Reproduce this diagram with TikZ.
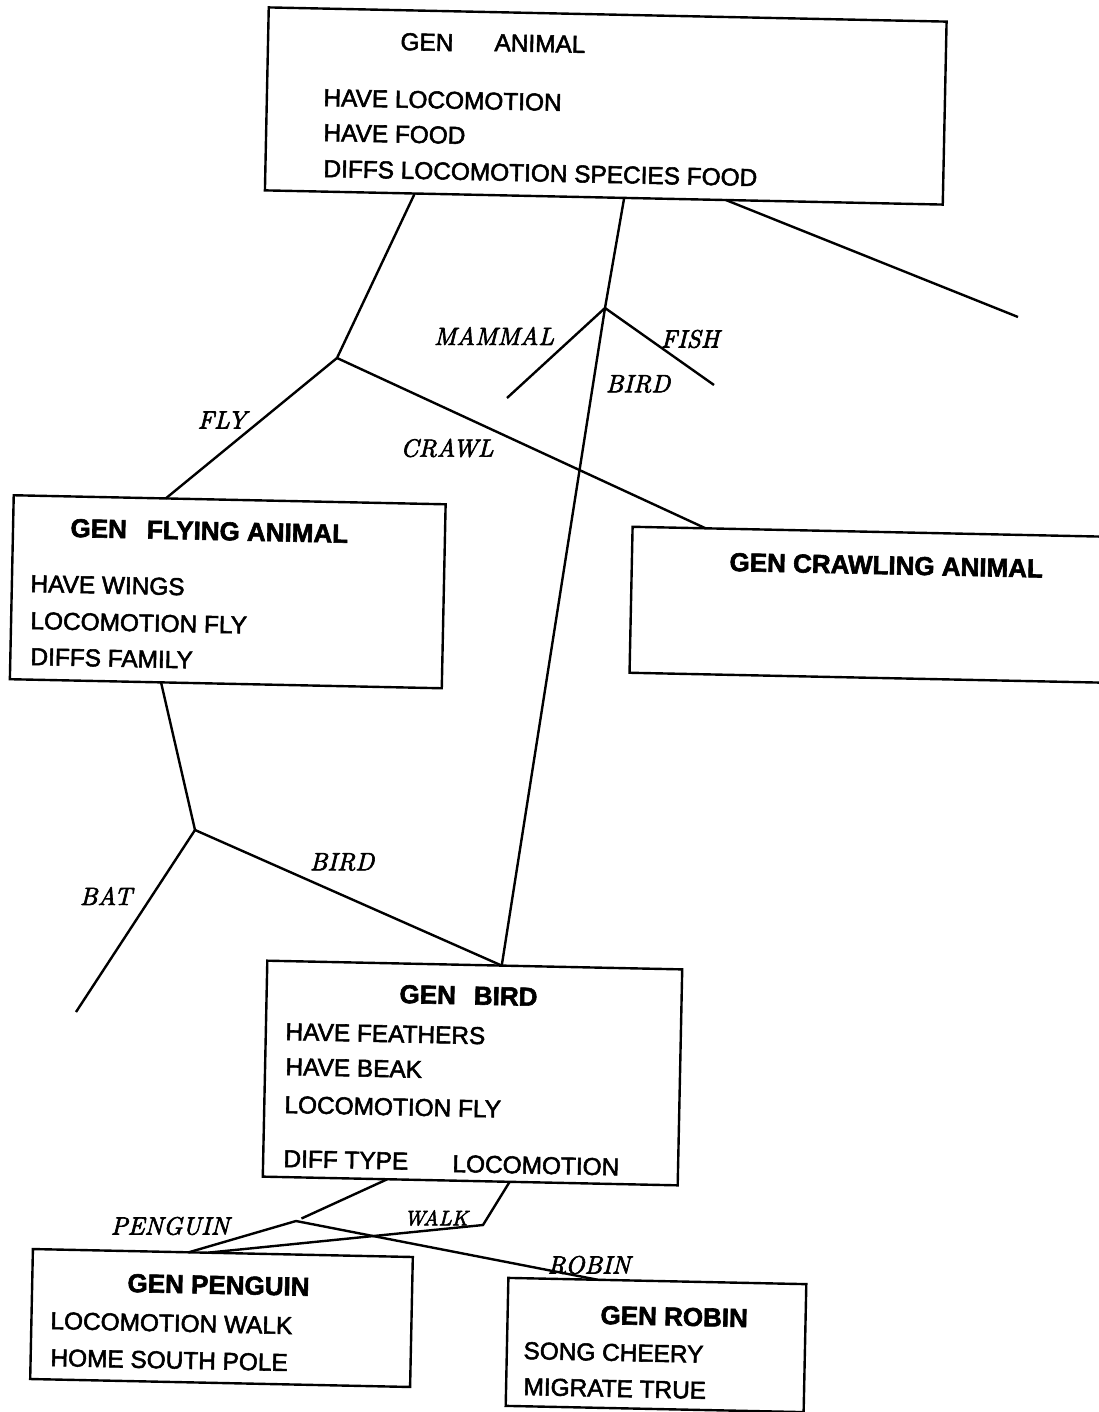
\documentclass[tikz,border=0pt]{standalone}
\usepackage{fontspec}
\newfontfamily\sansfnt[FakeBold=2.2]{Liberation Sans}
\newfontfamily\sanshd[FakeBold=2.2]{Liberation Sans}
\newfontfamily\lblfam[FakeBold=2.5]{lmroman10-italic.otf}
\usetikzlibrary{calc}
\newcommand\bodyfnt{\sansfnt\fontsize{12.2}{14}\selectfont}
\newcommand\headfnt{\sanshd\bfseries\fontsize{13}{15}\selectfont}
\newcommand\lblfnt{\lblfam\fontsize{12.5}{14}\selectfont}
\newcommand\smlblfnt{\lblfam\fontsize{10.5}{12}\selectfont}
\begin{document}
\begin{tikzpicture}[x=0.5pt,y=-0.5pt,
  box/.style={draw,line width=1.2pt,rotate=-1.2,inner sep=0pt,outer sep=0pt},
  txt/.style={anchor=base west,rotate=-1.2,inner sep=0pt,font=\bodyfnt},
  hd/.style={txt,font=\headfnt},
  lbl/.style={inner sep=0pt,font=\lblfnt},
  conn/.style={line width=1.2pt}]
\useasboundingbox[fill=white] (0,0) rectangle (1098,1412);

% boxes
\node[box,minimum width=339pt,minimum height=91.5pt] (animal) at (605.75,106) {};
\node[box,minimum width=216pt,minimum height=92pt] (flying) at (227.75,591.75) {};
\node[box,minimum width=250pt,minimum height=73pt] (crawl) at (881,605) {};
\node[box,minimum width=207.5pt,minimum height=108pt] (bird) at (472.5,1073) {};
\node[box,minimum width=190pt,minimum height=65pt] (penguin) at (221.5,1318) {};
\node[box,minimum width=149pt,minimum height=64pt] (robin) at (656,1345) {};

% animal text
\node[txt] (tA1) at (400,50) {GEN};
\node[txt] (tA2) at (494,51) {ANIMAL};
\node[txt] (tA3) at (323,106) {HAVE LOCOMOTION};
\node[txt] (tA4) at (323,141) {HAVE FOOD};
\node[txt] (tA5) at (323,177) {DIFFS LOCOMOTION SPECIES FOOD};

% flying text
\node[hd] (tF1) at (70,537) {GEN\hspace{10pt}FLYING ANIMAL};
\node[txt] (tF2) at (30,592) {HAVE WINGS};
\node[txt] (tF3) at (30,629) {LOCOMOTION FLY};
\node[txt] (tF4) at (30,665) {DIFFS FAMILY};

% crawling text
\node[hd] (tC1) at (729,571) {GEN CRAWLING ANIMAL};

% bird text
\node[hd] (tB1) at (399,1003) {GEN\hspace{9pt}BIRD};
\node[txt] (tB2) at (285,1040) {HAVE FEATHERS};
\node[txt] (tB3) at (285,1075) {HAVE BEAK};
\node[txt] (tB4) at (284,1113) {LOCOMOTION FLY};
\node[txt] (tB5) at (283,1167) {DIFF TYPE};
\node[txt] (tB6) at (452,1172) {LOCOMOTION};

% penguin text
\node[hd] (tP1) at (127,1292) {GEN PENGUIN};
\node[txt] (tP2) at (50,1329) {LOCOMOTION WALK};
\node[txt] (tP3) at (50,1366) {HOME SOUTH POLE};

% robin text
\node[hd] (tR1) at (600,1324) {GEN ROBIN};
\node[txt] (tR2) at (523,1359) {SONG CHEERY};
\node[txt] (tR3) at (523,1395) {MIGRATE TRUE};

% branch points and free ends
\coordinate (A) at (337,358);
\coordinate (B) at (605,308);
\coordinate (C) at (195,830);
\coordinate (D) at (296,1221);
\coordinate (E) at (483,1225);
\coordinate (mamEnd) at (507,398);
\coordinate (fishEnd) at (714,385);
\coordinate (lEnd) at (1018,317);
\coordinate (batEnd) at (76,1012);

% connectors
\draw[conn] ($(animal.south west)!0.221!(animal.south east)$) -- (A);
\draw[conn] (A) -- ($(flying.north west)!0.352!(flying.north east)$);
\draw[conn] (A) -- ($(crawl.north west)!0.146!(crawl.north east)$);
\draw[conn] ($(animal.south west)!0.53!(animal.south east)$) -- (B) -- ($(bird.north west)!0.565!(bird.north east)$);
\draw[conn] (B) -- (mamEnd);
\draw[conn] (B) -- (fishEnd);
\draw[conn] ($(animal.south west)!0.68!(animal.south east)$) -- (lEnd);
\draw[conn] ($(flying.south west)!0.35!(flying.south east)$) -- (C);
\draw[conn] (C) -- (batEnd);
\draw[conn] (C) -- ($(bird.north west)!0.565!(bird.north east)$);
\draw[conn,shorten >=3pt] ($(bird.south west)!0.30!(bird.south east)$) -- (D);
\draw[conn] (D) -- ($(penguin.north west)!0.41!(penguin.north east)$);
\draw[conn] (D) -- ($(robin.north west)!0.30!(robin.north east)$);
\draw[conn] ($(bird.south west)!0.595!(bird.south east)$) -- (E) -- ($(penguin.north west)!0.46!(penguin.north east)$);

% labels
\node[lbl] (lFly) at (222,420) {FLY};
\node[lbl] (lCrawl) at (447,448) {CRAWL};
\node[lbl] (lMammal) at (494,336) {MAMMAL};
\node[lbl] (lFish) at (690,339) {FISH};
\node[lbl] (lBird1) at (638,384) {BIRD};
\node[lbl] (lBird2) at (342,862) {BIRD};
\node[lbl] (lBat) at (106,896) {BAT};
\node[lbl] (lPenguin) at (170,1226) {PENGUIN};
\node[lbl,font=\smlblfnt] (lWalk) at (436,1218) {WALK};
\node[lbl] (lRobin) at (589,1265) {ROBIN};
\end{tikzpicture}
\end{document}
